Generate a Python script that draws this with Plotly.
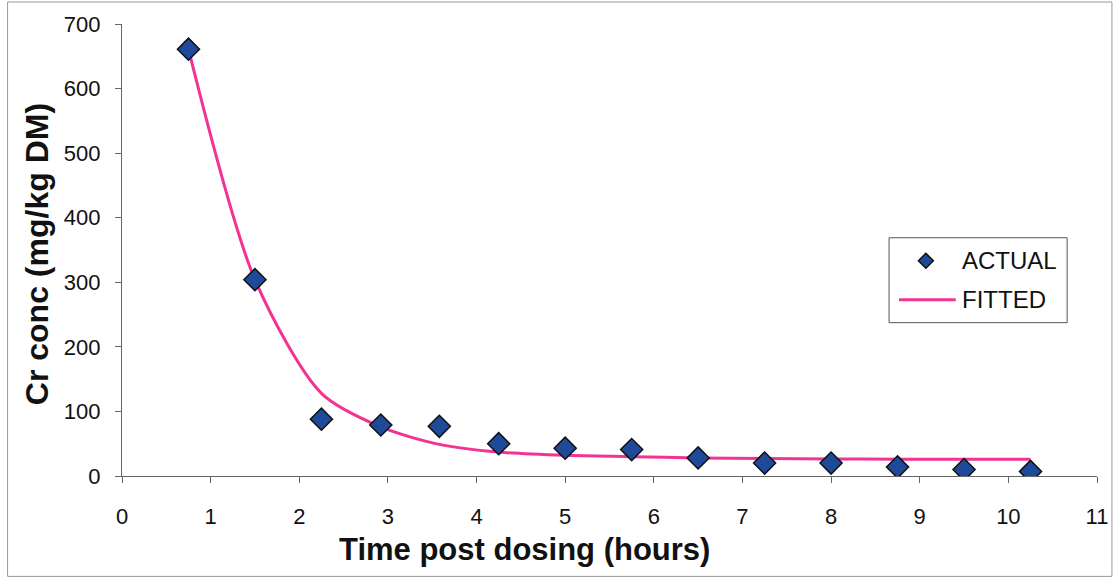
import plotly.graph_objects as go

# Sampling times (hours after dosing)
time_h = [0.75, 1.5, 2.25, 2.92, 3.58, 4.25, 5.0, 5.75, 6.5, 7.25, 8.0, 8.75, 9.5, 10.25]
# Measured Cr concentration (mg/kg DM)
actual = [661, 304, 88, 79, 77, 50, 43, 41, 28, 20, 20, 14, 10, 7]
# Fitted model values at the same times
fitted = [661, 304, 128, 76, 49, 37, 32, 30, 28, 27, 26.5, 26, 26, 26]

x_ticks = list(range(0, 12))
y_ticks = list(range(0, 701, 100))

FONT = "Liberation Sans, Arial, sans-serif"
MARKER_FILL = "#1f4a9a"
LINE_PINK = "#f23393"
TEXT = "#111111"

W, H = 1120, 579
ML, MR, MT, MB = 122, 18, 24, 102.5
PW, PH = W - ML - MR, H - MT - MB


def px(x):
    """Horizontal pixel position -> paper fraction."""
    return (x - ML) / PW


def py(y):
    """Vertical pixel position (from top) -> paper fraction."""
    return (H - MB - y) / PH


fig = go.Figure()

fig.add_trace(go.Scatter(
    x=time_h, y=fitted, mode="lines", name="FITTED", showlegend=False,
    line=dict(color=LINE_PINK, width=3, shape="spline", smoothing=0.8),
))
fig.add_trace(go.Scatter(
    x=time_h, y=actual, mode="markers", name="ACTUAL", showlegend=False,
    marker=dict(symbol="diamond", size=17, color=MARKER_FILL,
                line=dict(color="#111111", width=1.5)),
))

axis_common = dict(
    showgrid=False, zeroline=False, showline=True, linecolor="#666666", linewidth=1.2,
    ticks="outside", ticklen=6, tickcolor="#666666", tickwidth=1.2,
    tickfont=dict(family=FONT, size=22, color=TEXT),
)

fig.update_xaxes(range=[0, 11], tickvals=x_ticks, ticklabelstandoff=14, **axis_common)
fig.update_yaxes(range=[0, 700], tickvals=y_ticks, ticklabelstandoff=10, **axis_common)

# Legend box drawn by hand: frame, diamond glyph, line glyph and labels
lx0, lx1, ly0, ly1 = 893, 1072, 238, 323
row1, row2 = 261, 300
dcx, dh = 930, 7.5
legend_shapes = [
    dict(type="rect", xref="paper", yref="paper",
         x0=px(lx0), x1=px(lx1), y0=py(ly1), y1=py(ly0),
         line=dict(color="#555555", width=1), fillcolor="white", layer="above"),
    dict(type="path", xref="paper", yref="paper",
         path=(f"M{px(dcx - dh)},{py(row1)} L{px(dcx)},{py(row1 - dh)} "
               f"L{px(dcx + dh)},{py(row1)} L{px(dcx)},{py(row1 + dh)} Z"),
         fillcolor=MARKER_FILL, line=dict(color="#111111", width=1.5), layer="above"),
    dict(type="line", xref="paper", yref="paper",
         x0=px(903), x1=px(960), y0=py(row2), y1=py(row2),
         line=dict(color=LINE_PINK, width=3), layer="above"),
]

fig.update_layout(
    width=W, height=H,
    margin=dict(l=ML, r=MR, t=MT, b=MB),
    paper_bgcolor="white", plot_bgcolor="white",
    showlegend=False,
    annotations=[
        dict(text="<b>Time post dosing (hours)</b>", xref="paper", yref="paper",
             x=px(527), y=py(550), xanchor="center", yanchor="middle",
             showarrow=False, font=dict(family=FONT, size=31, color=TEXT)),
        dict(text="<b>Cr conc (mg/kg DM)</b>", xref="paper", yref="paper",
             x=px(36), y=py(254), xanchor="center", yanchor="middle",
             textangle=-90, showarrow=False,
             font=dict(family=FONT, size=32, color=TEXT)),
        dict(text="ACTUAL", xref="paper", yref="paper",
             x=px(964), y=py(row1), xanchor="left", yanchor="middle",
             showarrow=False, font=dict(family=FONT, size=24, color=TEXT)),
        dict(text="FITTED", xref="paper", yref="paper",
             x=px(964), y=py(row2), xanchor="left", yanchor="middle",
             showarrow=False, font=dict(family=FONT, size=24, color=TEXT)),
    ],
    shapes=[
        dict(type="rect", xref="paper", yref="paper",
             x0=px(7), x1=px(1117), y0=py(577), y1=py(2),
             line=dict(color="#999999", width=1)),
    ] + legend_shapes,
)

fig.write_html("out.html")
